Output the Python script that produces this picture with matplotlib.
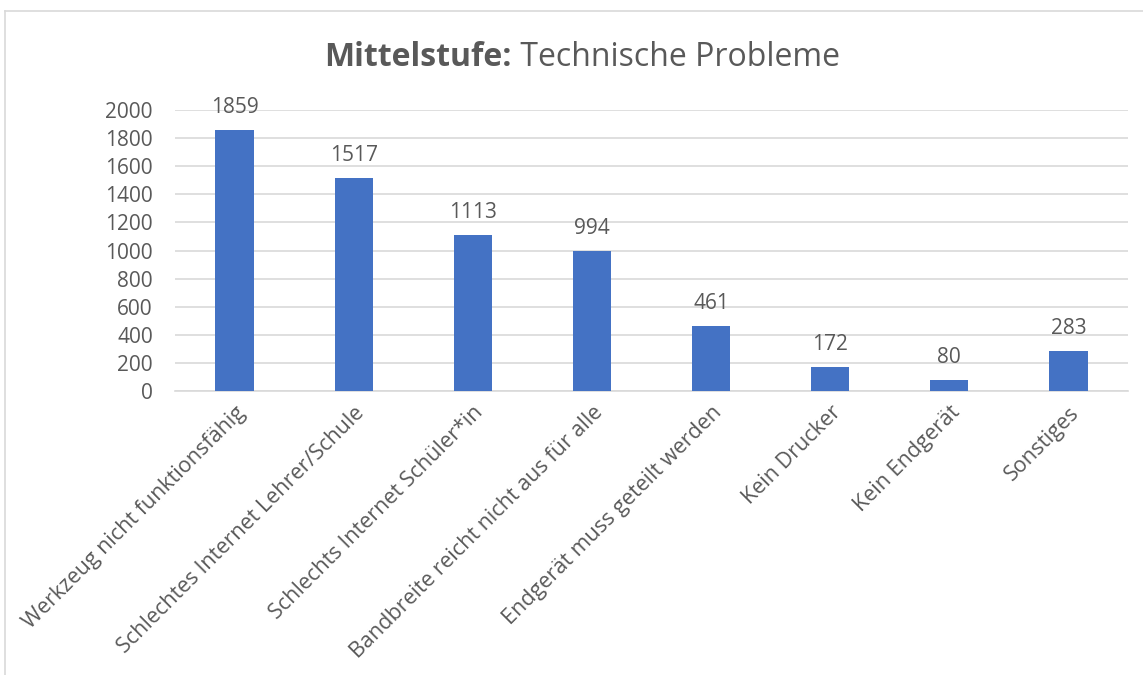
import matplotlib
matplotlib.use("Agg")
import matplotlib.pyplot as plt
from matplotlib.lines import Line2D

# --- Data ---
categories = [
    "Werkzeug nicht funktionsfähig",
    "Schlechtes Internet Lehrer/Schule",
    "Schlechts Internet Schüler*in",
    "Bandbreite reicht nicht aus für alle",
    "Endgerät muss geteilt werden",
    "Kein Drucker",
    "Kein Endgerät",
    "Sonstiges",
]
counts = [1859, 1517, 1113, 994, 461, 172, 80, 283]
y_ticks = [0, 200, 400, 600, 800, 1000, 1200, 1400, 1600, 1800, 2000]

bar_color = "#4472C4"
text_color = "#595959"
grid_color = "#D9D9D9"

plt.rcParams["font.family"] = ["Open Sans", "DejaVu Sans"]

fig = plt.figure(figsize=(11.43, 6.75), dpi=100)
ax = fig.add_axes([0.1531, 0.4207, 0.8338, 0.4163])

x = list(range(len(categories)))
bars = ax.bar(x, counts, width=0.32, color=bar_color, zorder=3)

# value labels above bars
for xi, v in zip(x, counts):
    ax.text(xi, v + 85, str(v), ha="center", va="bottom",
            fontsize=15, color=text_color)

ax.set_xlim(-0.5, len(categories) - 0.5)
ax.set_ylim(0, 2000)
ax.set_yticks(y_ticks)
ax.set_yticklabels([str(t) for t in y_ticks], fontsize=15, color=text_color)
ax.yaxis.grid(True, color=grid_color, linewidth=1.2, zorder=0)
ax.set_axisbelow(True)

ax.set_xticks(x)
ax.set_xticklabels(categories, rotation=45, ha="right", va="top",
                   rotation_mode="anchor", fontsize=15.5, color=text_color)
ax.tick_params(axis="both", length=0)
ax.tick_params(axis="x", pad=8)
ax.tick_params(axis="y", pad=16)

for side in ["top", "right", "left"]:
    ax.spines[side].set_visible(False)
ax.spines["bottom"].set_color(grid_color)
ax.spines["bottom"].set_linewidth(1.2)

# --- Title: bold prefix + regular rest, centred as one line ---
title_y = 1 - 58 / 675
t1 = fig.text(0, title_y, "Mittelstufe:", fontsize=23, fontweight="bold",
              color=text_color, va="center")
t2 = fig.text(0, title_y, " Technische Probleme", fontsize=23,
              color=text_color, va="center")
fig.canvas.draw()
r = fig.canvas.get_renderer()
w1 = t1.get_window_extent(r).width / fig.bbox.width
w2 = t2.get_window_extent(r).width / fig.bbox.width
x0 = 582 / 1143 - (w1 + w2) / 2
t1.set_x(x0)
t2.set_x(x0 + w1)

# chart frame (only left and top edges visible in the crop)
fx = 5 / 1143
fy = 1 - 11 / 675
fig.add_artist(Line2D([fx, fx], [0, fy], color=grid_color, lw=1.2,
                      transform=fig.transFigure))
fig.add_artist(Line2D([fx, 1], [fy, fy], color=grid_color, lw=1.2,
                      transform=fig.transFigure))

fig.savefig("out.png", dpi=100)
